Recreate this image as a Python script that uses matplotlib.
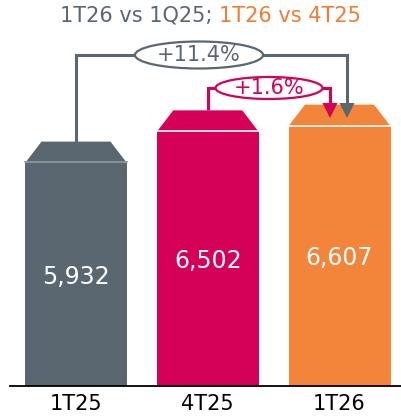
import numpy as np
import matplotlib
matplotlib.use('Agg')
from matplotlib import pyplot as plt
from matplotlib.patches import Polygon, Ellipse

# data
cats = ['1T25', '4T25', '1T26']
vals = [5932, 6502, 6607]
colors = ['#5B6770', '#D50057', '#F2853A']
sep_colors = ['#8D99A3', 'white', 'white']
chg_labels = ['+11.4%', '+1.6%']

# scale helpers (px -> data)
V0 = 1864.
KY = 18.25      # data units per pixel (y)
KX = 1 / 131.75 # data units per pixel (x)

fig = plt.figure(figsize=(4.01, 4.17), dpi=100)
ax = fig.add_axes([10/401, 31/417, 391/401, 386/417])
ax.set_xlim(-66*KX, 325*KX)
ax.set_ylim(V0, V0 + 386*KY)

w = 102*KX
inset = 16.5*KX
cap = 21.5*KY
x = np.arange(len(vals))

ax.bar(x, vals, width=w, color=colors, zorder=2)
for xi, v, c, sc in zip(x, vals, colors, sep_colors):
    ax.add_patch(Polygon([(xi-w/2, v), (xi-w/2+inset, v+cap), (xi+w/2-inset, v+cap), (xi+w/2, v)],
                         closed=True, color=c, zorder=2, lw=0))
    ax.plot([xi-w/2, xi+w/2], [v+0.6*KY, v+0.6*KY], color=sc, lw=1.2, zorder=3)
    ax.text(xi, (V0+v)/2 - 2*KY, f'{v:,}', ha='center', va='center', color='white', fontsize=17, zorder=4)

def connector(x0, y0, x1, ytop, ytip, color):
    ah = 15*KY
    aw = 7.5*KX
    ax.plot([x0, x0, x1, x1], [y0, ytop, ytop, ytip+ah], color=color, lw=2.2, zorder=5,
            solid_joinstyle='miter', solid_capstyle='butt')
    ax.add_patch(Polygon([(x1-aw, ytip+ah), (x1+aw, ytip+ah), (x1, ytip)], closed=True,
                         color=color, lw=0, zorder=6))

tip = V0 + 268*KY
# 1T25 -> 1T26
ygray = V0 + 331*KY
connector(0, vals[0]+cap, 271*KX, ygray, tip, colors[0])
ax.add_patch(Ellipse((123*KX, ygray), 128*KX, 27*KY, facecolor='white', edgecolor=colors[0], lw=1.6, zorder=7))
ax.text(123*KX, ygray, chg_labels[0], ha='center', va='center', color=colors[0], fontsize=15, zorder=8)

# 4T25 -> 1T26
ypink = V0 + 298*KY
connector(1, vals[1]+cap, 254*KX, ypink, tip, colors[1])
ax.add_patch(Ellipse((193*KX, ypink), 107*KX, 22*KY, facecolor='white', edgecolor=colors[1], lw=1.6, zorder=7))
ax.text(193*KX, ypink, chg_labels[1], ha='center', va='center', color=colors[1], fontsize=15, zorder=8)

ax.set_xticks(x)
ax.set_xticklabels(cats)
ax.tick_params(axis='x', length=0, pad=6, labelsize=15, labelcolor='black')
ax.set_yticks([])
for s in ['top', 'right', 'left']:
    ax.spines[s].set_visible(False)
ax.spines['bottom'].set_linewidth(1.3)
ax.spines['bottom'].set_color('black')
ax.spines['bottom'].set_position(('data', V0))

t1 = fig.text(60/401, 1 - 22/417, '1T26 vs 1Q25; ', color='#5B6770', fontsize=15, ha='left', va='baseline')
fig.canvas.draw()
ax.annotate('1T26 vs 4T25', xy=(1, 0), xycoords=t1, color='#F07D35', fontsize=15, ha='left', va='bottom')

fig.savefig('out.png', dpi=100)
